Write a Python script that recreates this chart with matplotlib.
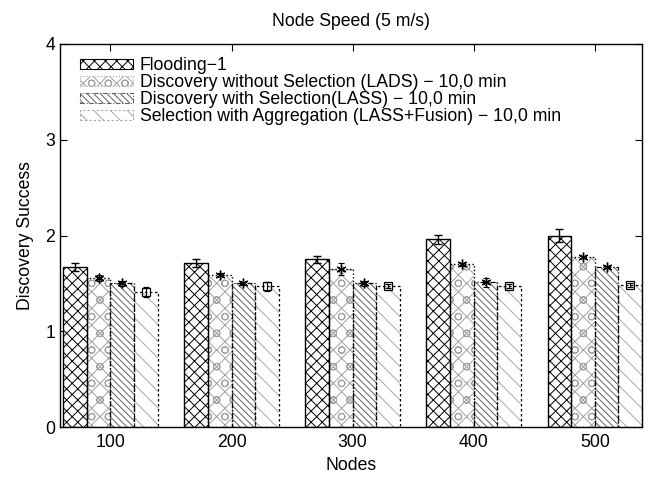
import matplotlib.pyplot as plt
import matplotlib.patches as mpatches
import numpy as np

plt.rcParams['font.family'] = ['Liberation Sans', 'DejaVu Sans']
plt.rcParams['hatch.linewidth'] = 0.7

nodes = [100, 200, 300, 400, 500]

flooding = [1.67, 1.71, 1.75, 1.96, 2.00]
flooding_err = [0.04, 0.04, 0.04, 0.05, 0.07]

lads = [1.56, 1.59, 1.65, 1.70, 1.78]
lads_err = [0.03, 0.015, 0.065, 0.015, 0.01]

lass = [1.50, 1.50, 1.50, 1.51, 1.67]
lass_err = [0.03, 0.015, 0.03, 0.05, 0.01]

fusion = [1.41, 1.47, 1.47, 1.47, 1.48]
fusion_err = [0.055, 0.045, 0.02, 0.02, 0.02]

labels = [
    'Flooding\u22121',
    'Discovery without Selection (LADS) \u2212 10,0 min',
    'Discovery with Selection(LASS) \u2212 10,0 min',
    'Selection with Aggregation (LASS+Fusion) \u2212 10,0 min',
]

series = [flooding, lads, lass, fusion]
errors = [flooding_err, lads_err, lass_err, fusion_err]

# style per series: hatch, hatch colour, outline style, error marker
styles = [
    dict(hatch='xxx', hc='black', ls='-', lw=1.0, marker=None),
    dict(hatch='xxo', hc='#a0a0a0', ls=':', lw=1.0, marker=(6, 2, 0)),
    dict(hatch='\\\\\\\\\\', hc='#606060', ls=(0, (4, 1.5, 1, 1.5)), lw=0.9, marker=(6, 2, 0)),
    dict(hatch='\\\\', hc='#a8a8a8', ls=(0, (2, 2)), lw=0.9, marker='s'),
]

width = 19.5
x = np.array(nodes, dtype=float)
offsets = [-1.5 * width, -0.5 * width, 0.5 * width, 1.5 * width]

fs = 12.7

fig = plt.figure(figsize=(6.49, 4.78), dpi=100)
ax = fig.add_axes([60 / 649, 1 - 427 / 478, 582 / 649, 383 / 478])

for vals, errs, off, st in zip(series, errors, offsets, styles):
    pos = x + off
    # hatch fill
    ax.bar(pos, vals, width, color='white', edgecolor=st['hc'], hatch=st['hatch'],
           linewidth=0, zorder=2)
    # outline
    ax.bar(pos, vals, width, fill=False, edgecolor='black', linestyle=st['ls'],
           linewidth=st['lw'], zorder=3)
    if st['marker'] is None:
        ax.errorbar(pos, vals, yerr=errs, fmt='none', ecolor='black', elinewidth=1.0,
                    capsize=3, capthick=1.0, zorder=4)
    elif st['marker'] == 's':
        ax.errorbar(pos, vals, yerr=errs, fmt='s', ecolor='black', mec='black',
                    mfc='none', ms=6, mew=0.9, elinewidth=0.8,
                    capsize=2.5, capthick=0.8, zorder=4)
    else:
        ax.errorbar(pos, vals, yerr=errs, fmt='none', ecolor='black', elinewidth=0.8,
                    capsize=2.5, capthick=0.8, zorder=4)
        ax.plot(pos, vals, linestyle='none', marker=st['marker'], color='black',
                ms=7, mew=1.0, zorder=5)

ax.set_xlim(58.3, 539)
ax.set_ylim(0, 4)
ax.set_xticks(nodes)
ax.set_yticks([0, 1, 2, 3, 4])
ax.tick_params(direction='in', top=True, right=True, length=5, labelsize=fs, width=0.8)
ax.tick_params(axis='x', pad=5)
for s in ax.spines.values():
    s.set_linewidth(1.0)

ax.set_xlabel('Nodes', fontsize=fs, labelpad=4)
ax.set_ylabel('Discovery Success', fontsize=fs, labelpad=8)
ax.set_title('Node Speed (5 m/s)', fontsize=fs, pad=13)

handles = []
for lab, st in zip(labels, styles):
    ec = 'black' if st['marker'] is None else st['hc']
    handles.append(mpatches.Patch(facecolor='white', edgecolor=ec, hatch=st['hatch'],
                                  linestyle=st['ls'], linewidth=0.8, label=lab))
ax.legend(handles=handles, loc='upper left', frameon=False, fontsize=fs,
          handlelength=3.0, handleheight=0.5, labelspacing=0.0, handletextpad=0.4,
          borderpad=0.0, borderaxespad=0.0, bbox_to_anchor=(0.034, 0.965))

fig.savefig('out.png', dpi=100)
